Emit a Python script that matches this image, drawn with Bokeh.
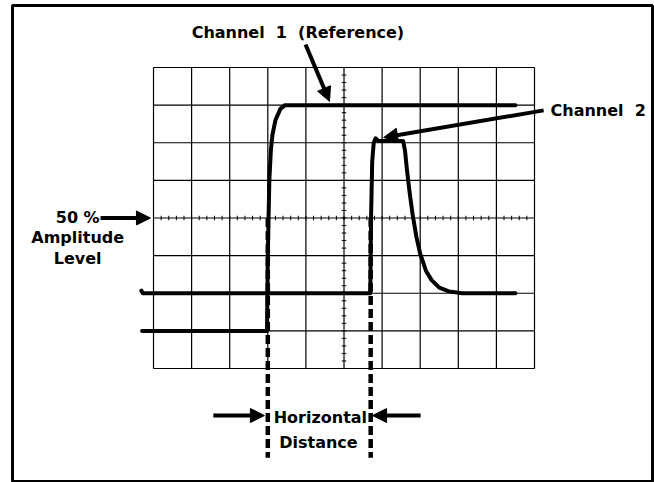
from bokeh.plotting import figure
from bokeh.models import Range1d, Arrow, NormalHead
from bokeh.core.properties import value
from bokeh.embed import file_html
from bokeh.resources import INLINE

# ---- graticule (divisions) ----
grid_cols = list(range(0, 11))          # 10 horizontal divisions
grid_rows = list(range(0, 9))           # 8 vertical divisions
minor_y = [i * 0.2 for i in range(41)]  # subdivisions on centre vertical line
minor_x = [i * 0.2 for i in range(51)]  # subdivisions on centre horizontal line

# ---- traces (in divisions) ----
ch1_x = [-0.3, 2.98, 3.0, 3.04, 3.08, 3.12, 3.2, 3.33, 3.45, 9.5]
ch1_y = [1.0, 1.0, 3.0, 5.0, 5.8, 6.2, 6.6, 6.9, 7.0, 7.0]

ch2_x = [-0.32, -0.28, 5.69, 5.71, 5.74, 5.78, 5.83, 5.9, 6.55, 6.6, 6.65, 6.72,
         6.8, 6.9, 7.0, 7.15, 7.3, 7.5, 7.75, 8.1, 9.5]
ch2_y = [2.07, 2.0, 2.0, 4.0, 5.5, 6.0, 6.12, 6.05, 6.05, 5.8, 5.3, 4.7,
         4.1, 3.5, 3.05, 2.6, 2.35, 2.15, 2.05, 2.0, 2.0]

fifty_level = 4.0
crossings = [3.0, 5.7]   # 50% amplitude crossing points of ch1 and ch2

FONT = value("DejaVu Sans")

p = figure(width=654, height=482, x_range=Range1d(-3.701, 13.097),
           y_range=Range1d(-3.003, 9.648), output_backend="svg",
           toolbar_location=None, min_border_left=12, min_border_top=5,
           min_border_right=2, min_border_bottom=1,
           x_axis_location=None, y_axis_location=None)
p.grid.visible = False
p.outline_line_color = "black"
p.outline_line_width = 3
p.background_fill_color = "white"
p.border_fill_color = "white"

# graticule
p.segment(x0=grid_cols, y0=[grid_rows[0]] * len(grid_cols),
          x1=grid_cols, y1=[grid_rows[-1]] * len(grid_cols),
          line_color="black", line_width=1.2)
p.segment(x0=[grid_cols[0]] * len(grid_rows), y0=grid_rows,
          x1=[grid_cols[-1]] * len(grid_rows), y1=grid_rows,
          line_color="black", line_width=1.2)
cx = grid_cols[len(grid_cols) // 2]
cy = grid_rows[len(grid_rows) // 2]
p.segment(x0=[cx - 0.06] * len(minor_y), y0=minor_y,
          x1=[cx + 0.06] * len(minor_y), y1=minor_y,
          line_color="black", line_width=1)
p.segment(x0=minor_x, y0=[cy - 0.06] * len(minor_x),
          x1=minor_x, y1=[cy + 0.06] * len(minor_x),
          line_color="black", line_width=1)

# traces
p.line(ch1_x, ch1_y, line_color="black", line_width=4, line_join="round", line_cap="round")
p.line(ch2_x, ch2_y, line_color="black", line_width=4, line_join="round", line_cap="round")

# dashed markers from 50% level down
p.segment(x0=crossings, y0=[fifty_level] * 2, x1=crossings, y1=[-2.37] * 2,
          line_color="black", line_width=4.5, line_dash="9 4")

# arrows
def arrow(xs, ys, xe, ye):
    p.add_layout(Arrow(end=NormalHead(size=14, fill_color="black", line_color="black",
                                      line_width=1),
                       x_start=xs, y_start=ys, x_end=xe, y_end=ye,
                       line_color="black", line_width=4))

arrow(3.99, 8.61, 4.62, 7.10)
arrow(10.24, 6.86, 6.04, 6.14)
arrow(-1.39, 4.0, -0.08, 4.0)
arrow(1.57, -1.25, 2.91, -1.25)
arrow(7.01, -1.25, 5.75, -1.25)

# texts
def label(x, y, t, align="center"):
    p.text(x=[x], y=[y], text=[t], text_font=FONT, text_font_style="bold",
           text_font_size="16px", text_align=align, text_baseline="middle",
           text_color="black")

label(3.79, 8.93, "Channel\u00a0 1\u00a0 (Reference)")
label(10.42, 6.86, "Channel\u00a0 2", align="left")
label(-1.99, 4.01, "50 %")
label(-1.99, 3.48, "Amplitude")
label(-1.99, 2.92, "Level")
label(4.38, -1.30, "Horizontal")
label(4.33, -1.97, "Distance")

open("out.html", "w").write(file_html(p, INLINE))
